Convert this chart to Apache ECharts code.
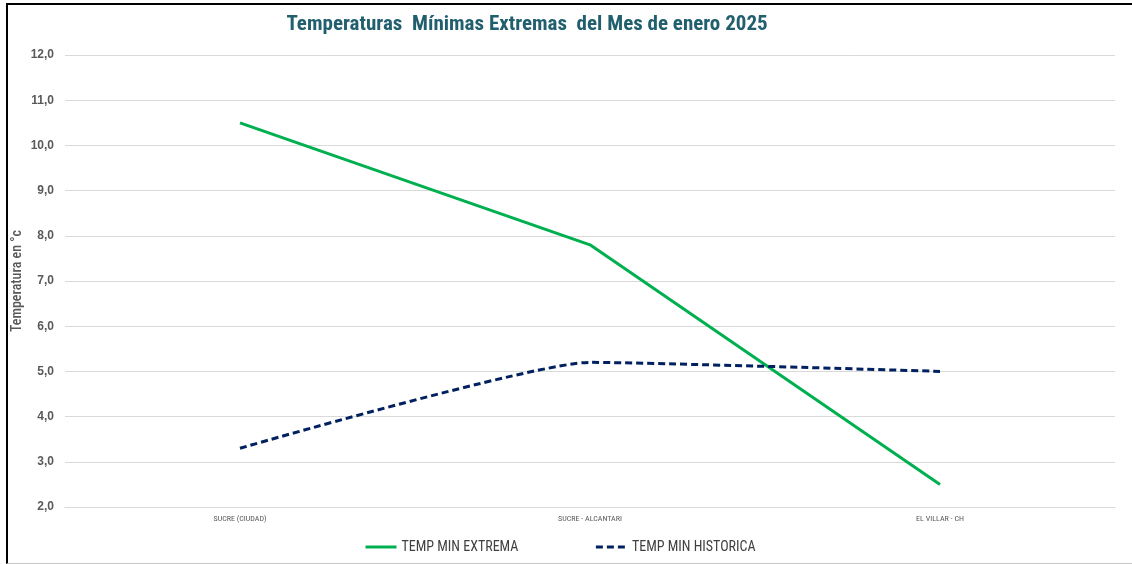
<!DOCTYPE html>
<html>
<head>
<meta charset="utf-8">
<script src="https://cdn.jsdelivr.net/npm/echarts@6/dist/echarts.min.js"></script>
<style>
  html, body { margin: 0; padding: 0; background: #fff; }
  .frame {
    position: absolute; left: 6px; top: 3px; width: 1126px; height: 558px;
    border-top: 2px solid #000; border-left: 2px solid #000; border-bottom: 1px solid #c8c8c8;
  }
  #chart { position: absolute; left: 0; top: 0; width: 1132px; height: 564px; }
</style>
</head>
<body>
<div class="frame"></div>
<div id="chart"></div>
<script>
// estaciones
const estaciones = ['SUCRE (CIUDAD)', 'SUCRE - ALCANTARI', 'EL VILLAR - CH']
// temperaturas (°C)
const tempMinExtrema = [10.5, 7.8, 2.5]
const tempMinHistorica = [3.3, 5.2, 5.0]

const narrow = "'Liberation Sans Narrow', 'Roboto Condensed', 'Open Sans', sans-serif"

const chart = echarts.init(document.getElementById('chart'))
chart.setOption({
  animation: false,
  title: {
    text: 'Temperaturas  Mínimas Extremas  del Mes de enero 2025',
    left: 522,
    textAlign: 'center',
    top: 9,
    textStyle: { color: '#215f6e', fontSize: 21, fontWeight: 'bold', fontFamily: narrow },
  },
  grid: { left: 65, right: 17, top: 55, bottom: 57 },
  legend: {
    bottom: 10,
    left: 364,
    padding: 0,
    itemGap: 76,
    itemWidth: 31,
    itemHeight: 3,
    itemStyle: { opacity: 0 },
    lineStyle: { width: 3 },
    textStyle: { color: '#404040', fontSize: 14, fontFamily: narrow },
    data: ['TEMP MIN EXTREMA', 'TEMP MIN HISTORICA'],
  },
  xAxis: {
    type: 'category',
    data: estaciones,
    axisLine: { lineStyle: { color: '#d9d9d9', width: 1 } },
    axisTick: { show: false },
    axisLabel: { color: '#595959', fontSize: 8, margin: 8, fontFamily: narrow },
  },
  yAxis: {
    type: 'value',
    min: 2,
    max: 12,
    interval: 1,
    name: 'Temperatura en °c',
    nameLocation: 'middle',
    nameGap: 41,
    nameMoveOverlap: false,
    nameTextStyle: { color: '#595959', fontSize: 14, fontWeight: 500, fontFamily: narrow },
    axisLabel: {
      color: '#595959', fontSize: 12, fontWeight: 'bold', margin: 11,
      formatter: v => v.toFixed(1).replace('.', ','),
    },
    splitLine: { lineStyle: { color: '#d9d9d9', width: 1 } },
  },
  series: [
    {
      name: 'TEMP MIN EXTREMA',
      type: 'line',
      data: tempMinExtrema,
      symbol: 'none',
      lineStyle: { color: '#00b050', width: 3 },
      itemStyle: { color: '#00b050' },
    },
    {
      name: 'TEMP MIN HISTORICA',
      type: 'line',
      data: tempMinHistorica,
      symbol: 'none',
      smooth: 0.15,
      lineStyle: { color: '#002060', width: 3, type: [7, 4] },
      itemStyle: { color: '#002060' },
    },
  ],
})
</script>
</body>
</html>
